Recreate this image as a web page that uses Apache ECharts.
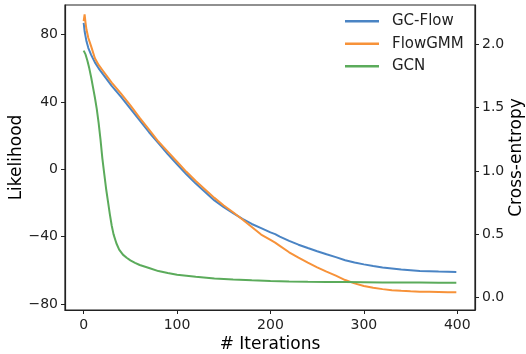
<!DOCTYPE html>
<html>
<head>
<meta charset="utf-8">
<script src="https://cdn.jsdelivr.net/npm/echarts@6/dist/echarts.min.js"></script>
<style>
  html, body { margin: 0; padding: 0; background: #fff; }
  #chart { width: 526px; height: 354px; }
</style>
</head>
<body>
<div id="chart"></div>
<script>
const flowIters = [0, 1, 2, 3, 5, 8, 12, 16, 20, 30, 40, 50, 60, 70, 80, 90, 100, 110, 120, 130, 140, 150, 160, 170, 180, 190, 200, 205, 210, 220, 230, 240, 250, 260, 270, 280, 290, 300, 310, 320, 330, 340, 350, 360, 370, 380, 390, 399]
const gcFlowLL = [87, 82, 79, 76, 72, 68, 63.5, 60, 57, 49.5, 43, 36, 29, 22, 15.5, 9, 3, -3, -8.5, -13.5, -18.5, -22.5, -26, -29.5, -32.5, -35, -37.5, -38.5, -40, -42.5, -44.8, -46.8, -48.7, -50.5, -52.2, -54, -55.4, -56.5, -57.5, -58.4, -59, -59.6, -60, -60.4, -60.6, -60.8, -60.9, -61]
const flowGmmLL = [88, 92, 87, 83, 78, 73, 66, 62, 59, 51.5, 45, 38, 30.5, 23.5, 16.5, 10.5, 4.5, -1.5, -7, -12, -17, -21.5, -25.5, -29.8, -34.3, -38.8, -42, -43.6, -45.5, -49.3, -52.5, -55.5, -58.3, -60.8, -63.2, -65.8, -67.8, -69.3, -70.4, -71.2, -71.8, -72.2, -72.5, -72.7, -72.8, -72.9, -73, -73]

// GCN cross-entropy (right axis)
const gcnIters = [0, 2, 4, 6, 8, 10, 12, 14, 16, 18, 20, 22, 24, 26, 28, 30, 32, 35, 38, 42, 46, 50, 55, 60, 70, 80, 90, 100, 120, 140, 160, 180, 200, 220, 240, 260, 280, 300, 320, 340, 360, 380, 399]
const gcnCE = [1.95, 1.92, 1.87, 1.81, 1.74, 1.66, 1.58, 1.49, 1.38, 1.25, 1.1, 0.98, 0.86, 0.76, 0.66, 0.57, 0.5, 0.43, 0.38, 0.34, 0.315, 0.295, 0.275, 0.258, 0.235, 0.21, 0.195, 0.182, 0.166, 0.152, 0.143, 0.137, 0.132, 0.128, 0.125, 0.124, 0.123, 0.122, 0.121, 0.12, 0.12, 0.119, 0.119]

const xTicks = [0, 100, 200, 300, 400]
const llTicks = [-80, -40, 0, 40, 80]
const ceTicks = [0, 0.5, 1, 1.5, 2]

const pair = (xs, ys) => xs.map((x, i) => [x, ys[i]])
const minus = (s) => String(s).replace("-", "\u2212")

const chart = echarts.init(document.getElementById("chart"))

const tickFont = { color: "#222", fontSize: 14, fontFamily: "DejaVu Sans" }
const nameFont = { color: "#000", fontSize: 17, fontFamily: "DejaVu Sans" }

const option = {
  animation: false,
  backgroundColor: "#fff",
  grid: {
    left: 65,
    right: 51,
    top: 5,
    bottom: 44,
    outerBoundsMode: "none",
    containLabel: false,
    show: true,
    borderColor: "#222",
    borderWidth: 1.2,
  },
  legend: {
    left: 340,
    top: 8,
    orient: "vertical",
    icon: "rect",
    itemWidth: 34,
    itemHeight: 2.5,
    itemGap: 6,
    textStyle: { color: "#222", fontSize: 15, fontFamily: "DejaVu Sans", padding: [0, 0, 0, 8], lineHeight: 16.5 },
    data: ["GC-Flow", "FlowGMM", "GCN"],
  },
  xAxis: {
    type: "value",
    min: -20,
    max: 419,
    name: "# Iterations",
    nameLocation: "middle",
    nameGap: 26,
    nameMoveOverlap: false,
    nameTextStyle: nameFont,
    axisLine: { onZero: false, lineStyle: { color: "#222", width: 1.2 } },
    axisTick: { inside: false, length: 4, customValues: xTicks, lineStyle: { color: "#222" } },
    axisLabel: { ...tickFont, margin: 8, customValues: xTicks },
    splitLine: { show: false },
  },
  yAxis: [
    {
      type: "value",
      min: -83.6,
      max: 97.6,
      name: "Likelihood",
      nameLocation: "middle",
      nameGap: 40,
      nameMoveOverlap: false,
      nameTextStyle: nameFont,
      axisLine: { show: true, onZero: false, lineStyle: { color: "#222", width: 1.2 } },
      axisTick: { show: true, length: 4, customValues: llTicks, lineStyle: { color: "#222" } },
      axisLabel: { ...tickFont, margin: 7, customValues: llTicks, formatter: (v) => minus(v) },
      splitLine: { show: false },
    },
    {
      type: "value",
      position: "right",
      min: -0.097,
      max: 2.31,
      name: "Cross-entropy",
      nameLocation: "middle",
      nameGap: 33,
      nameRotate: 90,
      nameMoveOverlap: false,
      nameTextStyle: nameFont,
      axisLine: { show: true, onZero: false, lineStyle: { color: "#222", width: 1.2 } },
      axisTick: { show: true, length: 4, customValues: ceTicks, lineStyle: { color: "#222" } },
      axisLabel: { ...tickFont, margin: 7, customValues: ceTicks, formatter: (v) => v.toFixed(1) },
      splitLine: { show: false },
    },
  ],
  series: [
    {
      name: "GC-Flow",
      type: "line",
      yAxisIndex: 0,
      showSymbol: false,
      data: pair(flowIters, gcFlowLL),
      itemStyle: { color: "#4a84c4" },
      lineStyle: { color: "#4a84c4", width: 2 },
    },
    {
      name: "FlowGMM",
      type: "line",
      yAxisIndex: 0,
      showSymbol: false,
      data: pair(flowIters, flowGmmLL),
      itemStyle: { color: "#f79239" },
      lineStyle: { color: "#f79239", width: 2 },
    },
    {
      name: "GCN",
      type: "line",
      yAxisIndex: 1,
      showSymbol: false,
      data: pair(gcnIters, gcnCE),
      itemStyle: { color: "#5bab5b" },
      lineStyle: { color: "#5bab5b", width: 2 },
    },
  ],
}

chart.setOption(option)
</script>
</body>
</html>
